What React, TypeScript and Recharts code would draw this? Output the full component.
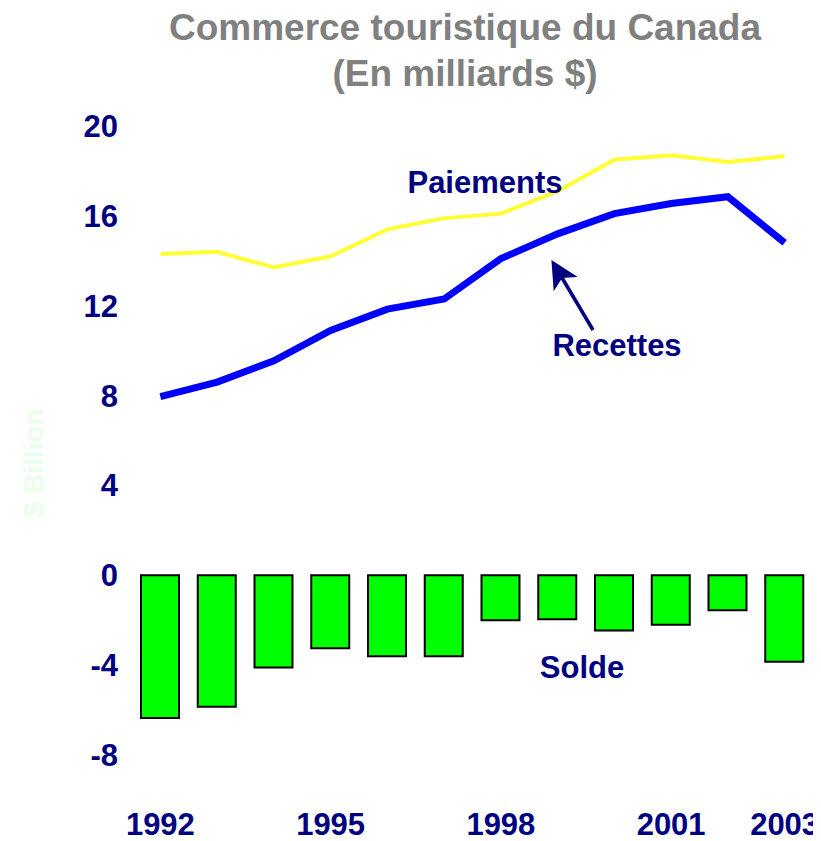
import React from 'react';
import { ComposedChart, Bar, Line, XAxis, YAxis } from 'recharts';

const YEARS = ['1992', '1993', '1994', '1995', '1996', '1997', '1998', '1999', '2000', '2001', '2002', '2003'];
const PAIEMENTS = [14.3, 14.4, 13.7, 14.2, 15.4, 15.9, 16.1, 17.1, 18.5, 18.7, 18.4, 18.65];
const RECETTES = [7.95, 8.6, 9.55, 10.9, 11.85, 12.3, 14.1, 15.2, 16.1, 16.55, 16.85, 14.8];
const SOLDE = [-6.35, -5.85, -4.1, -3.25, -3.6, -3.6, -2.0, -1.95, -2.45, -2.2, -1.55, -3.85];
const SHOWN_YEARS = ['1992', '1995', '1998', '2001', '2003'];
const Y_TICKS = [-8, -4, 0, 4, 8, 12, 16, 20];

const data = YEARS.map((year, i) => ({
  year,
  paiements: PAIEMENTS[i],
  recettes: RECETTES[i],
  solde: SOLDE[i],
}));

const NAVY = '#000080';
const FONT = '"Liberation Sans", Arial, sans-serif';

const tickStyle = { fill: NAVY, fontSize: 31, fontWeight: 700, fontFamily: FONT };

export default function App() {
  return (
    <div style={{ position: 'relative', width: 813, height: 833 }}>
      {/* chart runs to the window edge, keep scrollbars from eating into it */}
      <style>{'html { overflow: hidden; } .recharts-surface { overflow: visible; }'}</style>
      <ComposedChart
        width={813}
        height={833}
        data={data}
        margin={{ top: 118, right: 8, bottom: 11, left: 0 }}
        style={{ overflow: 'visible' }}
      >
        <XAxis
          dataKey="year"
          interval={0}
          height={30}
          axisLine={false}
          tickLine={false}
          tickSize={0}
          tickMargin={13}
          tick={tickStyle}
          tickFormatter={(v: string) => (SHOWN_YEARS.includes(v) ? v : '')}
        />
        <YAxis
          width={124}
          domain={[-10, 20]}
          ticks={Y_TICKS}
          axisLine={false}
          tickLine={false}
          tickSize={0}
          tickMargin={14}
          tick={tickStyle}
        />
        <Bar dataKey="solde" barSize={38} fill="#00FF00" stroke="#000000" strokeWidth={2} isAnimationActive={false} />
        <Line type="linear" dataKey="paiements" stroke="#FFFF33" strokeWidth={4} dot={false} isAnimationActive={false} />
        <Line type="linear" dataKey="recettes" stroke="#0000FF" strokeWidth={7} dot={false} isAnimationActive={false} />
      </ComposedChart>
      <svg
        width={813}
        height={833}
        style={{ position: 'absolute', left: 0, top: 0, pointerEvents: 'none' }}
        fontFamily={FONT}
        fontWeight={700}
      >
        <defs>
          <marker id="arrowhead" markerWidth="8" markerHeight="8" refX="6" refY="4" orient="auto" markerUnits="strokeWidth">
            <path d="M0,0 L8,4 L0,8 L2,4 Z" fill={NAVY} />
          </marker>
        </defs>
        <text x={457} y={32} textAnchor="middle" fill="#808080" fontSize={37}>
          Commerce touristique du Canada
        </text>
        <text x={457} y={78} textAnchor="middle" fill="#808080" fontSize={37}>
          (En milliards $)
        </text>
        <text
          x={25}
          y={455}
          textAnchor="middle"
          fill="#EAFFEA"
          fontSize={28}
          transform="rotate(-90 25 455)"
          dominantBaseline="central"
        >
          $ Billion
        </text>
        <text x={477} y={185} textAnchor="middle" fill={NAVY} fontSize={31}>
          Paiements
        </text>
        <text x={609} y={348} textAnchor="middle" fill={NAVY} fontSize={31}>
          Recettes
        </text>
        <text x={574} y={670} textAnchor="middle" fill={NAVY} fontSize={31}>
          Solde
        </text>
        <line x1={585} y1={322} x2={547} y2={258} stroke={NAVY} strokeWidth={3.5} markerEnd="url(#arrowhead)" />
      </svg>
    </div>
  );
}
